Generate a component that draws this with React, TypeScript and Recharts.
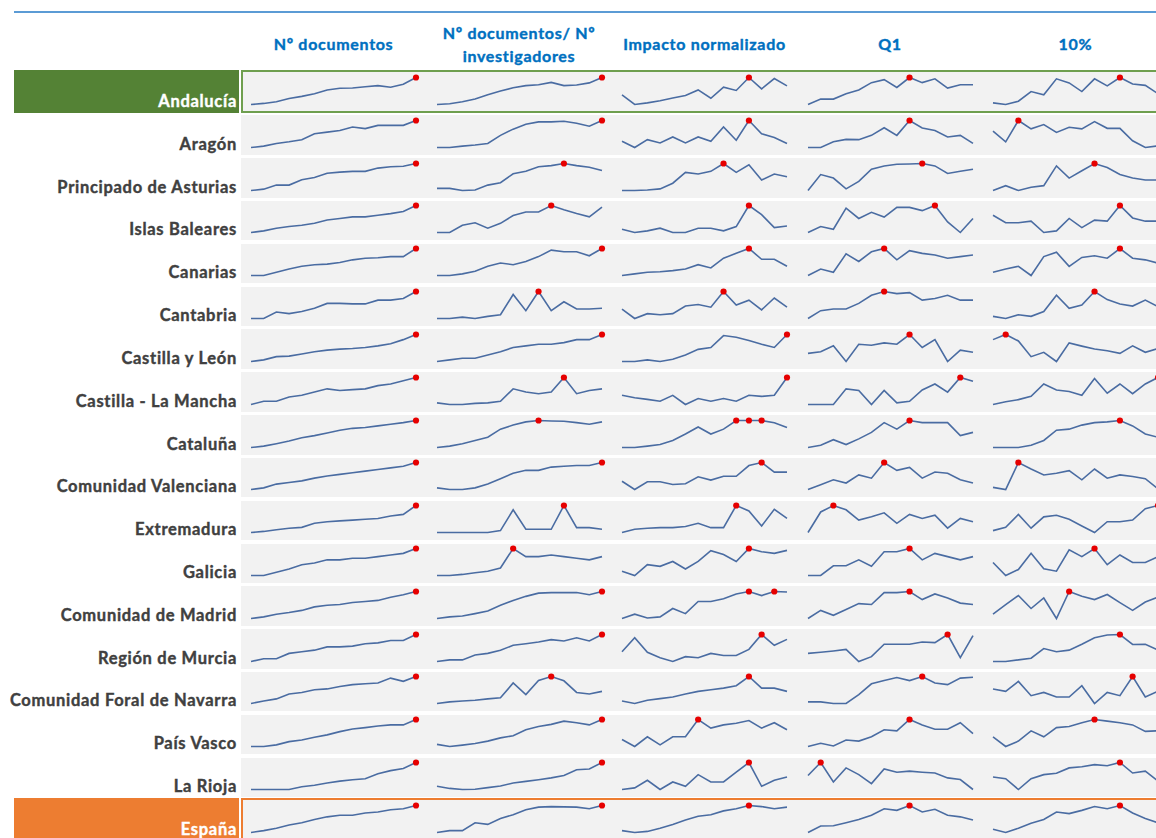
import React from 'react';
import { LineChart, Line, XAxis, YAxis } from 'recharts';

const regions = [
  'Andalucía', 'Aragón', 'Principado de Asturias', 'Islas Baleares', 'Canarias', 'Cantabria',
  'Castilla y León', 'Castilla - La Mancha', 'Cataluña', 'Comunidad Valenciana', 'Extremadura',
  'Galicia', 'Comunidad de Madrid', 'Región de Murcia', 'Comunidad Foral de Navarra', 'País Vasco',
  'La Rioja', 'España',
];

const headers = [
  ['Nº documentos'],
  ['Nº documentos/ Nº', 'investigadores'],
  ['Impacto normalizado'],
  ['Q1'],
  ['10%'],
];

const years = ['2005', '2006', '2007', '2008', '2009', '2010', '2011', '2012', '2013', '2014', '2015', '2016', '2017', '2018'];

// Relative sparkline heights (each sparkline is scaled min..max on its own)
const numDocumentos = [
  [0, 0.4, 1, 2.2, 3, 4, 5.4, 6, 6.1, 6.6, 7, 6.4, 7.5, 10],
  [0, 0.5, 1.5, 2.1, 2.9, 5.1, 5.7, 6.3, 7.6, 7, 8.2, 8.2, 8.2, 10],
  [0, 0.5, 2, 2, 4, 4.8, 6.4, 6.8, 7.1, 7.1, 8.3, 8.8, 9, 10],
  [0, 0.6, 1.6, 2.2, 2.7, 3.4, 4.6, 5.2, 5.8, 5.8, 6.4, 7, 7.8, 10],
  [0, 0, 1.2, 2.4, 3.4, 4, 4.2, 4.8, 5.8, 6.4, 6.6, 7, 7, 10],
  [0, 0, 2.4, 1.8, 2.6, 3.8, 5.6, 5.6, 5.4, 5.4, 6.8, 6.8, 7.4, 10],
  [0, 0.6, 1.8, 2, 2.8, 3.6, 4.2, 4.6, 4.8, 5.2, 5.8, 6.6, 8.1, 10],
  [0, 1.2, 1.2, 2.8, 3.4, 4.6, 5.8, 5.2, 5.5, 5.8, 7, 7.6, 8.8, 10],
  [0, 0.5, 1.4, 2.4, 3.6, 4.4, 5.4, 6.4, 7.1, 7.4, 8, 8.6, 9.2, 10],
  [0, 0.6, 2, 2.6, 3.2, 4.2, 5, 5.6, 6.2, 6.8, 7.4, 8, 8.6, 10],
  [0, 0.4, 1, 1.6, 1.9, 3.4, 4, 4.3, 4.6, 4.9, 5.2, 6.1, 6.7, 10],
  [0, 0, 1.2, 2.4, 4, 4.6, 5.8, 5.8, 6.4, 6.4, 7, 7.6, 8.2, 10],
  [0, 0.6, 1.6, 2.2, 3, 4.3, 4.9, 5.2, 5.9, 6.3, 6.7, 7.9, 8.8, 10],
  [0, 1, 1, 3, 3.6, 4.2, 5.4, 5.4, 5.7, 6.6, 6.9, 7.8, 7.8, 10],
  [0, 0.9, 1.7, 3.5, 4.1, 5.1, 5.4, 6.3, 7, 7.3, 7.6, 9.4, 8.2, 10],
  [0, 0, 0.6, 1.8, 2.4, 3.4, 4.3, 5.5, 6.5, 7, 7.6, 8, 8, 10],
  [0, 0, 0, 0, 1, 1.6, 2.4, 3.1, 3.6, 4, 5.8, 7, 7.8, 10],
  [0, 0.7, 1.6, 2.8, 3.6, 4.8, 5.8, 6.4, 6.4, 7.2, 7.6, 8.4, 8.8, 10],
];

const docsPorInvestigador = [
  [0, 0.3, 1, 2, 3.6, 5, 6.2, 7, 7.3, 8.2, 7, 7.2, 8, 10],
  [0, 0, 0.5, 0.9, 1.5, 4.5, 6.8, 8.6, 9.5, 9.5, 9.7, 9, 7.9, 10],
  [0.8, 0.8, 0, 0.2, 2, 2.9, 6.2, 7.1, 8.8, 9.2, 10, 9.2, 8.6, 7.4],
  [0, 0, 2.7, 3.6, 1.6, 3.4, 6.3, 7.6, 7.6, 10, 8.4, 7, 5.8, 9.4],
  [0, 0, 0.6, 1.6, 3.4, 4.6, 4, 5.2, 7, 9.4, 8.8, 8.8, 7.3, 10],
  [0, 0, 0.5, 0, 0.8, 1.4, 8.9, 2.9, 10, 2.9, 6.2, 3.5, 3.5, 3.8],
  [0, 0.6, 1.2, 1.2, 2.4, 3.6, 5.2, 5.8, 6.4, 6.4, 7, 8.1, 8.1, 10],
  [0.6, 0, 0, 0.4, 0.6, 1.2, 5.8, 4.6, 4, 4.6, 10, 4, 5.2, 5.8],
  [0, 0.5, 1.4, 2.6, 3.8, 6.8, 8.3, 9.5, 10, 9.8, 9.7, 9.2, 8.6, 9.5],
  [0.6, 0, 0, 0.6, 2, 4, 6, 7.1, 7.1, 8.3, 8.6, 8.9, 8.9, 10],
  [0, 0, 0, 0, 0, 0.7, 8.4, 1.2, 1.2, 1.2, 10, 1.8, 1.8, 1.2],
  [0, 0, 0.4, 1, 1.6, 2.8, 10, 7, 7, 7.6, 7, 6.4, 5.8, 7],
  [0, 0.6, 0.9, 1.8, 2.8, 4.9, 6.7, 8.2, 9.4, 9.6, 9.6, 9.6, 8.8, 10],
  [0, 0.6, 0.6, 2.4, 3, 4.2, 6, 6.6, 7.2, 8.1, 7.6, 8.8, 7.6, 10],
  [0, 0.6, 0.9, 1.2, 1.7, 2.1, 7.6, 3.3, 8.5, 10, 8.4, 4.1, 3.5, 4.5],
  [0.8, 0, 0.5, 1.1, 2, 3.2, 4, 6.2, 7.4, 8.2, 9.4, 8.8, 8, 10],
  [1.2, 0.4, 0, 0.1, 0.7, 1.3, 2.4, 3, 3.6, 4.3, 5.2, 7.3, 7.6, 10],
  [0, 0.7, 0.7, 3.6, 3, 5.2, 6.6, 8.4, 9.4, 9.6, 9.5, 9.4, 8.8, 10],
];

const impactoNormalizado = [
  [3.6, 0, 0.6, 1.4, 2.4, 3.3, 5.4, 2.3, 6.4, 5.2, 10, 5.8, 9.6, 6.9],
  [2.3, 0, 2.9, 1.7, 3.9, 1.7, 3.9, 2.3, 7.6, 2.7, 10, 5.1, 3.7, 1.5],
  [0, 0, 0.2, 0.6, 2.7, 6.7, 6.1, 7.1, 10, 6.7, 9.5, 3.9, 6.1, 5.1],
  [1.2, 0, 0.6, 1.6, 0, 0, 1.6, 1.6, 0.6, 2.2, 10, 6.6, 1.8, 2.4],
  [0, 0.6, 1.2, 1.4, 1.8, 2.4, 4, 2.8, 6.4, 8.2, 10, 6, 6, 3.4],
  [3.5, 0, 1.8, 1.4, 1.8, 4.6, 5.2, 4.2, 10, 5, 6.8, 3.2, 7.6, 4.2],
  [0, 0, 0.6, 0, 0.8, 2.4, 4.5, 5.2, 9.6, 9, 7.8, 6.4, 5.2, 10],
  [3.4, 2.5, 1.9, 1.2, 3.4, 0, 2.2, 1.2, 2.2, 1.2, 3.4, 3, 3.4, 10],
  [0, 0, 0.5, 1.1, 2.6, 5, 7.6, 5, 6.8, 10, 10, 10, 9.2, 7.4],
  [3.2, 0.2, 3, 3, 2, 2.3, 4.8, 3.6, 5, 5, 8.9, 10, 6.5, 6.5],
  [0, 1.2, 1.6, 1.8, 1.8, 2.2, 3.4, 1.8, 1.8, 10, 8, 2.4, 8.6, 5.2],
  [1.6, 0, 4, 3.4, 5.2, 2.4, 5.2, 9.2, 7.8, 5.2, 10, 8.8, 8.2, 9.3],
  [0, 1.6, 0.2, 0.6, 3.7, 1.8, 6.3, 6.3, 7.3, 9.1, 10, 8.5, 10, 9.8],
  [3.6, 8.8, 3.4, 1.4, 0, 1.8, 1.4, 3, 2.2, 2.2, 4.5, 10, 6, 8.2],
  [0.9, 0, 1.2, 1.8, 2.4, 3.5, 4.5, 5.1, 5.7, 6.6, 10, 5.7, 5.7, 4.5],
  [2.6, 0, 3.6, 0.6, 3.6, 3.6, 10, 6.8, 8, 8.6, 9.6, 6.8, 8.8, 6.2],
  [0, 0.6, 3.4, 0, 2.8, 1.2, 5.5, 2.8, 2.8, 6.4, 10, 1.2, 3.4, 4.6],
  [0.7, 0, 0.4, 1.6, 3, 4.6, 6, 6.6, 8, 8.8, 10, 9.6, 8.8, 9.4],
];

const q1 = [
  [0, 2, 2, 4, 5.4, 8.1, 9.2, 6.3, 10, 8.1, 9.5, 6.1, 7.3, 7.3],
  [0, 0, 2.1, 3, 2.9, 4.5, 7.3, 4.5, 10, 7.2, 6.3, 3.9, 4.5, 1.5],
  [0, 5.9, 4.6, 0.6, 3.4, 7.9, 9.1, 9.7, 9.8, 10, 9.1, 6.3, 7.1, 7.9],
  [0, 2.2, 1.2, 9, 5.2, 7.5, 5.7, 9.3, 9.3, 8.1, 10, 3.9, 0, 5.2],
  [0, 2.4, 1.2, 8, 5.2, 8.8, 10, 5.8, 9.2, 8.2, 7.6, 6.4, 7, 7.6],
  [0, 2.9, 3.5, 3.5, 5.6, 8.6, 10, 9.2, 9.6, 6.8, 7.4, 8.6, 6.8, 6.8],
  [3, 3.6, 5.8, 0, 6.4, 6, 6.9, 6.4, 10, 5.2, 8.1, 0, 4.2, 3.4],
  [0, 0, 0, 5.8, 5.2, 0, 5.2, 0.6, 1.2, 5.4, 7.6, 4.6, 10, 8.6],
  [0, 0.8, 2.9, 1.1, 3.2, 5.6, 9.2, 6.8, 10, 9.2, 9.2, 9.2, 4.4, 5.6],
  [0, 1.8, 3.6, 2.4, 5.4, 4.2, 10, 7.1, 8.2, 4.2, 6.5, 6, 3.6, 2.4],
  [0, 7.6, 10, 8.4, 4.6, 5.8, 7.3, 3.4, 6.7, 5.2, 6.4, 1.6, 5.2, 4],
  [0, 0, 3.6, 3.6, 5.8, 3.4, 8.8, 8.8, 10, 5.8, 8.2, 7, 5.8, 7],
  [0, 3, 1.2, 3.3, 5.5, 5.2, 9.6, 9.6, 10, 7, 9.1, 7.6, 5.7, 5.2],
  [3, 3.4, 3.9, 4.5, 0, 1.8, 6.4, 6.4, 6.4, 7.2, 7, 10, 1.4, 9.6],
  [0.6, 0.6, 0, 0, 3.3, 7.3, 8.5, 9.6, 8.5, 10, 7.6, 7, 9.4, 9.7],
  [0, 1.2, 0.2, 2.4, 2, 3.6, 6.2, 5.8, 10, 8, 6.4, 6.4, 8.8, 4.8],
  [5.2, 10, 2.8, 8, 5.5, 2.2, 7.6, 6.4, 6.8, 6.4, 6.1, 4.3, 3.7, 0],
  [0, 2.4, 2.5, 3.6, 4.8, 6.4, 8.8, 8.2, 10, 7.6, 8.6, 6.4, 5.8, 4.6],
];

const top10 = [
  [0.6, 0, 1.2, 4.8, 3.6, 9.5, 8, 4.8, 9.5, 6.9, 10, 7.6, 7.1, 4],
  [6.1, 2.1, 10, 6.9, 8.5, 5.6, 7.5, 6.9, 9.6, 7.1, 7.1, 2.5, 0, 0.6],
  [0, 1.8, 0, 1.2, 1.8, 9.1, 4.6, 7.3, 10, 8.5, 5.9, 4.6, 3.9, 3.9],
  [6.4, 3.6, 3.6, 4.2, 0, 0.6, 5.2, 1.8, 4.6, 4.2, 10, 5.4, 4.2, 4.2],
  [1.2, 2.4, 3.4, 0, 7, 8.6, 3.4, 6.7, 7.3, 6.4, 10, 6.4, 5.8, 4.6],
  [0.8, 0, 1.4, 0.8, 2.6, 8.6, 3.8, 5, 10, 7, 5.4, 4.6, 6.8, 4.4],
  [8.1, 10, 7.6, 1.8, 3.4, 0, 6.9, 5.7, 4.6, 4, 3, 5.8, 3.4, 4.8],
  [0, 1, 1.8, 3, 7.6, 5.4, 4.8, 3.4, 9.6, 4.2, 7.6, 4, 7.6, 10],
  [0, 0, 0, 0.8, 2.6, 6.4, 6.8, 8.3, 9.2, 9.5, 10, 8, 5, 3.8],
  [0.8, 0, 10, 7.6, 5.4, 6, 7, 3.6, 7.6, 4.2, 5.4, 4.8, 4, 0.2],
  [0.7, 1.9, 6.7, 1.6, 5.8, 6.4, 4.9, 2.4, 0, 4, 4, 4.6, 8.8, 10],
  [4.8, 0, 2.2, 8.2, 2.5, 1.6, 9.5, 7, 10, 4, 7.6, 4.8, 4.8, 7],
  [1.6, 5.1, 8.5, 3.7, 7.6, 0, 10, 8.2, 7, 8.9, 5.9, 3, 6.1, 7.9],
  [0, 0, 0.6, 1.2, 4.8, 3.6, 4.2, 6.4, 8.8, 9.8, 10, 6.3, 6.4, 4.2],
  [5.4, 4.5, 8.2, 2.9, 4.1, 2.4, 2.4, 6.6, 0, 4.1, 2.9, 10, 2.4, 4.5],
  [3.6, 0, 2, 5.8, 3.6, 7, 7.4, 8.8, 10, 9.4, 8.8, 8, 5.6, 5.8],
  [4.6, 4, 0, 4, 5.5, 6, 8, 8.4, 9.2, 8.8, 10, 6.1, 6.8, 3.1],
  [1.2, 0, 1.6, 3.4, 4.8, 7.6, 7, 8.2, 9.6, 8.8, 10, 7.2, 5.2, 3.6],
];

const indicators = [numDocumentos, docsPorInvestigador, impactoNormalizado, q1, top10];

const ROW0 = 70;
const ROW_PITCH = 42.82;
const LINE_X0 = 251;
const COL_PITCH = 185.5;
const LINE_W = 165;
const FONT = "Lato, 'Liberation Sans', sans-serif";

function Spark({ values }: { values: number[] }) {
  const data = years.map((y, i) => ({ year: y, v: values[i] }));
  const max = Math.max(...values);
  const renderDot = (props: any) => {
    const { cx, cy, index, payload } = props;
    if (payload == null || payload.v !== max || cx == null) return <g key={`d${index}`} />;
    return <circle key={`d${index}`} cx={cx} cy={cy} r={3.1} fill="#e60000" stroke="none" />;
  };
  return (
    <LineChart width={LINE_W + 20} height={43} data={data} margin={{ top: 7.5, right: 10, bottom: 8.5, left: 10 }}>
      <XAxis dataKey="year" hide />
      <YAxis hide domain={['dataMin', 'dataMax']} />
      <Line
        type="linear"
        dataKey="v"
        stroke="#4a6ca2"
        strokeWidth={1.6}
        dot={renderDot}
        activeDot={false}
        isAnimationActive={false}
      />
    </LineChart>
  );
}

export default function App() {
  const last = regions.length - 1;
  return (
    <div style={{ position: 'absolute', left: 0, top: 0, width: 1156, height: 838, overflow: 'hidden', background: '#fff', fontFamily: FONT }}>
      {/* top rule */}
      <div style={{ position: 'absolute', left: 14, top: 11, width: 1142, height: 2, background: '#5b9bd5' }} />
      {/* headers */}
      {headers.map((lines, k) => (
        <div
          key={`h${k}`}
          style={{
            position: 'absolute',
            left: LINE_X0 + k * COL_PITCH - 20,
            width: LINE_W + 40,
            top: lines.length === 1 ? 32 : 21,
            textAlign: 'center',
            color: '#0070c0',
            fontWeight: 700,
            fontSize: 16,
            letterSpacing: '0.7px',
            WebkitTextStroke: '0.4px #0070c0',
            lineHeight: '23px',
            whiteSpace: 'nowrap',
          }}
        >
          {lines.map((l, j) => (
            <div key={j}>{l}</div>
          ))}
        </div>
      ))}
      {/* rows */}
      {regions.map((name, i) => {
        const top = ROW0 + i * ROW_PITCH;
        const special = i === 0 || i === last;
        const accent = i === 0 ? '#548235' : '#ed7d31';
        const border = i === 0 ? '#6f9f4f' : '#ed7d31';
        const txt = special ? '#ffffff' : '#404040';
        return (
          <React.Fragment key={`r${i}`}>
            {special ? (
              <>
                <div style={{ position: 'absolute', left: 14, top, width: 225, height: 43, background: accent }} />
                <div
                  style={{
                    position: 'absolute',
                    left: 241,
                    top,
                    width: 1156 - 241 + 10,
                    height: 43,
                    background: '#f2f2f2',
                    border: `2px solid ${border}`,
                    boxSizing: 'border-box',
                  }}
                />
              </>
            ) : (
              <div style={{ position: 'absolute', left: 241, top: top + 2.5, width: 1156 - 241, height: 39.5, background: '#f2f2f2' }} />
            )}
            <div
              style={{
                position: 'absolute',
                left: 0,
                width: 237,
                top: top + 21,
                height: 20,
                lineHeight: '20px',
                textAlign: 'right',
                fontWeight: 700,
                fontSize: 16.5,
                letterSpacing: '0.7px',
                WebkitTextStroke: `0.4px ${txt}`,
                color: txt,
                whiteSpace: 'nowrap',
              }}
            >
              {name}
            </div>
            {indicators.map((ind, k) => (
              <div key={`c${i}-${k}`} style={{ position: 'absolute', left: LINE_X0 + k * COL_PITCH - 10, top }}>
                <Spark values={ind[i]} />
              </div>
            ))}
          </React.Fragment>
        );
      })}
    </div>
  );
}
